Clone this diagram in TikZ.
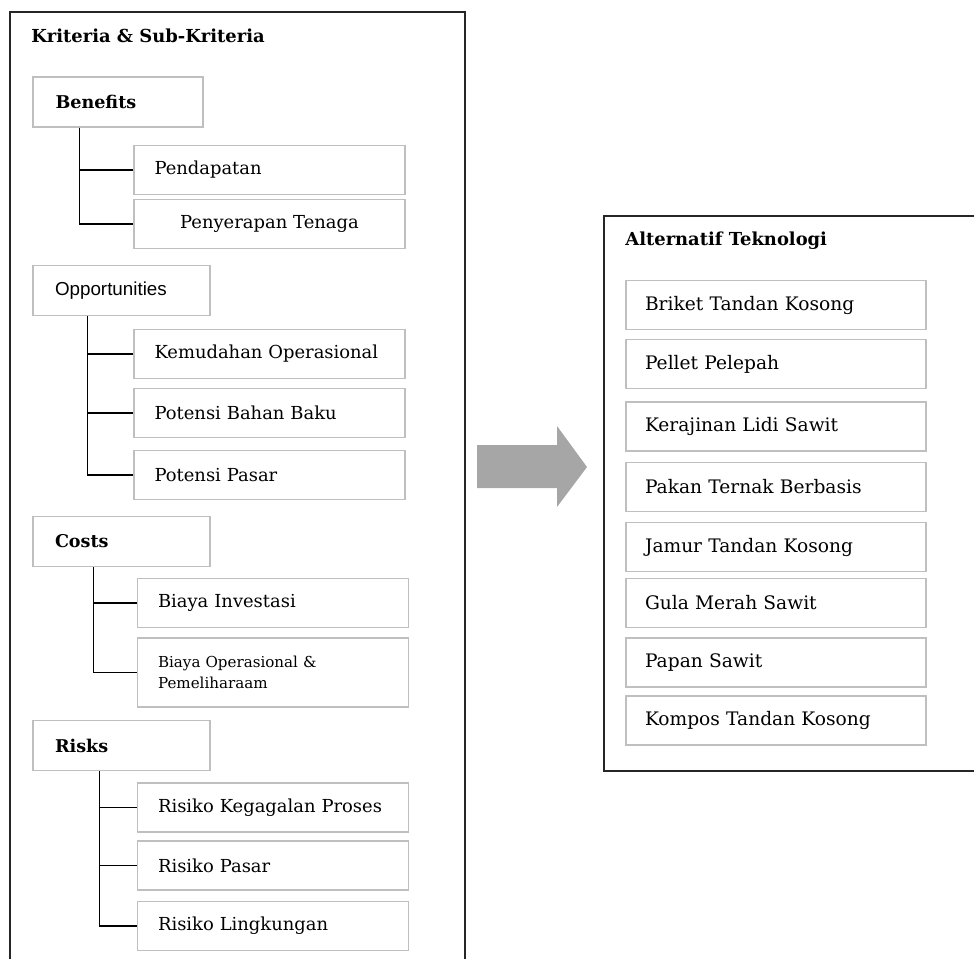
\documentclass[tikz,border=0pt]{standalone}
\usepackage{fontspec}
\setmainfont{DejaVu Serif}
\newfontfamily\oppfont{Liberation Sans}
\usepackage{tikz}

\begin{document}
\begin{tikzpicture}[x=0.02cm,y=-0.02cm,
  frame/.style={draw=black!85,line width=0.7pt},
  head/.style={anchor=west,inner sep=0pt,font=\fontsize{10.2}{12}\selectfont\bfseries},
  catbox/.style={draw=black!25,line width=0.8pt,rectangle,minimum height=1cm,
    minimum width=3.54cm,text width=2.66cm,inner xsep=0.44cm,align=left,
    font=\fontsize{10}{12}\selectfont\bfseries},
  subbox/.style={draw=black!25,line width=0.8pt,rectangle,minimum height=0.98cm,
    minimum width=5.42cm,text width=4.6cm,inner xsep=0.41cm,align=left,
    font=\fontsize{10.2}{12}\selectfont},
  altbox/.style={subbox,minimum width=6cm,text width=5.24cm,inner xsep=0.38cm,
    font=\fontsize{10.6}{12}\selectfont},
  tree/.style={draw=black,line width=0.75pt}]

\useasboundingbox (0,0) rectangle (974,958);
\clip (0,0) rectangle (974,958);

% the two frames run off the page
\draw[frame] (10,12) rectangle (465,1000);
\draw[frame] (604,216) rectangle (1000,771);

\node[head] (krit) at (31,36) {Kriteria \& Sub-Kriteria};
\node[head] (alt) at (625,241) {Alternatif Teknologi};

% criteria
\node[catbox,minimum width=3.4cm,text width=2.5cm] (ben) at (118,102) {Benefits};
\node[catbox,font=\oppfont\fontsize{10.7}{12}\selectfont] (opp) at (121.5,290.5) {Opportunities};
\node[catbox] (cost) at (121.5,541.5) {Costs};
\node[catbox] (risk) at (121.5,745.5) {Risks};

% sub-criteria
\node[subbox] (pend) at (269.5,170) {Pendapatan};
\node[subbox,align=center] (tenaga) at (269.5,224) {Penyerapan Tenaga};
\node[subbox] (mudah) at (269.5,354) {Kemudahan Operasional};
\node[subbox] (baku) at (269.5,413) {Potensi Bahan Baku};
\node[subbox] (pasar) at (269.5,475) {Potensi Pasar};
\node[subbox,minimum width=5.4cm] (invest) at (273,603) {Biaya Investasi};
\node[subbox,minimum width=5.4cm,minimum height=1.38cm,
      font=\fontsize{8.6}{12}\selectfont] (pelihara) at (273,672.5)
      {Biaya Operasional \&\\Pemeliharaam};
\foreach \y/\n/\t in {807.5/gagal/Risiko Kegagalan Proses, 865.5/rpasar/Risiko Pasar,
                      926/lingk/Risiko Lingkungan}
  \node[subbox,minimum width=5.4cm] (\n) at (273,\y) {\t};

\draw[tree] ([xshift=0.94cm]ben.south west) |- (pend.west);
\draw[tree] ([xshift=0.94cm]ben.south west) |- (tenaga.west);
\foreach \t in {mudah,baku,pasar}
  \draw[tree] ([xshift=1.1cm]opp.south west) |- (\t.west);
\foreach \t in {invest,pelihara}
  \draw[tree] ([xshift=1.22cm]cost.south west) |- (\t.west);
\foreach \t in {gagal,rpasar,lingk}
  \draw[tree] ([xshift=1.34cm]risk.south west) |- (\t.west);

% big arrow between the frames
\fill[black!35] (477,445) -- (557,445) -- (557,426) -- (587,467) -- (557,507)
  -- (557,488) -- (477,488) -- cycle;

% alternatives
\foreach \y/\n/\t in {305/a1/Briket Tandan Kosong, 364/a2/Pellet Pelepah,
                      426.5/a3/Kerajinan Lidi Sawit, 487/a4/Pakan Ternak Berbasis,
                      547/a5/Jamur Tandan Kosong, 603/a6/Gula Merah Sawit,
                      662.5/a7/Papan Sawit, 720.5/a8/Kompos Tandan Kosong}
  \node[altbox] (\n) at (776,\y) {\t};

\end{tikzpicture}
\end{document}
